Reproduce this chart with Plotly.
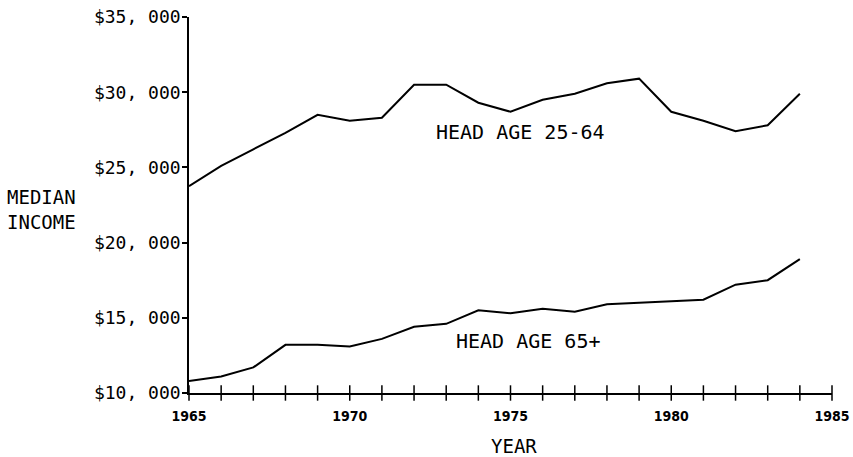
import plotly.graph_objects as go

years = list(range(1965, 1985))
head_25_64 = [23.75, 25.1, 26.2, 27.3, 28.5, 28.1, 28.3, 30.5, 30.5, 29.3,
              28.7, 29.5, 29.9, 30.6, 30.9, 28.7, 28.1, 27.4, 27.8, 29.9]
head_65_plus = [10.8, 11.1, 11.7, 13.2, 13.2, 13.1, 13.6, 14.4, 14.6, 15.5,
                15.3, 15.6, 15.4, 15.9, 16.0, 16.1, 16.2, 17.2, 17.5, 18.9]
income_25_64 = [v * 1000 for v in head_25_64]
income_65_plus = [v * 1000 for v in head_65_plus]

x_ticks = [1965, 1970, 1975, 1980, 1985]
x_ticklabels = ["1965", "1970", "1975", "1980", "1985"]
minor_years = list(range(1965, 1986))
y_ticks = [10000, 15000, 20000, 25000, 30000, 35000]
y_ticklabels = ["$10, 000", "$15, 000", "$20, 000", "$25, 000", "$30, 000", "$35, 000"]

label_font = "DejaVu Sans Mono"
narrow_font = "Liberation Sans Narrow, DejaVu Sans Condensed, Liberation Sans"

fig = go.Figure()
fig.add_trace(go.Scatter(x=years, y=income_25_64, mode="lines",
                         line=dict(color="black", width=2), showlegend=False))
fig.add_trace(go.Scatter(x=years, y=income_65_plus, mode="lines",
                         line=dict(color="black", width=2), showlegend=False))
# cross-shaped year ticks on the x axis
fig.add_trace(go.Scatter(x=minor_years, y=[y_ticks[0]] * len(minor_years), mode="markers",
                         marker=dict(symbol="line-ns", size=11,
                                     line=dict(color="black", width=1.5)),
                         cliponaxis=False, showlegend=False, hoverinfo="skip"))

fig.add_annotation(x=1975.3, y=27350, text="HEAD AGE 25-64", showarrow=False,
                   font=dict(family=label_font, size=20, color="black"))
fig.add_annotation(x=1975.55, y=13450, text="HEAD AGE 65+", showarrow=False,
                   font=dict(family=label_font, size=20, color="black"))
fig.add_annotation(x=-0.286, y=0.487, xref="paper", yref="paper", xanchor="left",
                   yanchor="middle", text="MEDIAN<br>INCOME", showarrow=False, align="left",
                   font=dict(family=label_font, size=19, color="black"))
fig.add_annotation(x=1975.1, y=-0.141, yref="paper", yanchor="middle", text="YEAR",
                   showarrow=False,
                   font=dict(family=label_font, size=19, color="black"))

fig.update_xaxes(range=[1965, 1985], tickvals=x_ticks, ticktext=x_ticklabels,
                 showgrid=False, zeroline=False, showline=True, linecolor="black",
                 linewidth=1.5, ticks="", ticklabelstandoff=9, automargin=False,
                 ticklabeloverflow="allow",
                 tickfont=dict(family=narrow_font, size=14, color="black", weight="bold"))
fig.update_yaxes(range=[10000, 35000], tickvals=y_ticks, ticktext=y_ticklabels,
                 showgrid=False, zeroline=False, showline=True, linecolor="black",
                 linewidth=1.5, ticks="outside", ticklen=5, tickwidth=1.5,
                 tickcolor="black", automargin=False, ticklabeloverflow="allow",
                 ticklabelstandoff=-2,
                 tickfont=dict(family=label_font, size=18, color="black"))

fig.update_layout(width=853, height=457, plot_bgcolor="white", paper_bgcolor="white",
                  margin=dict(l=189, r=21, t=17, b=64), showlegend=False)

fig.write_html("out.html", config={"displayModeBar": False},
               post_script="document.body.style.margin='0';document.body.style.overflow='hidden';")
